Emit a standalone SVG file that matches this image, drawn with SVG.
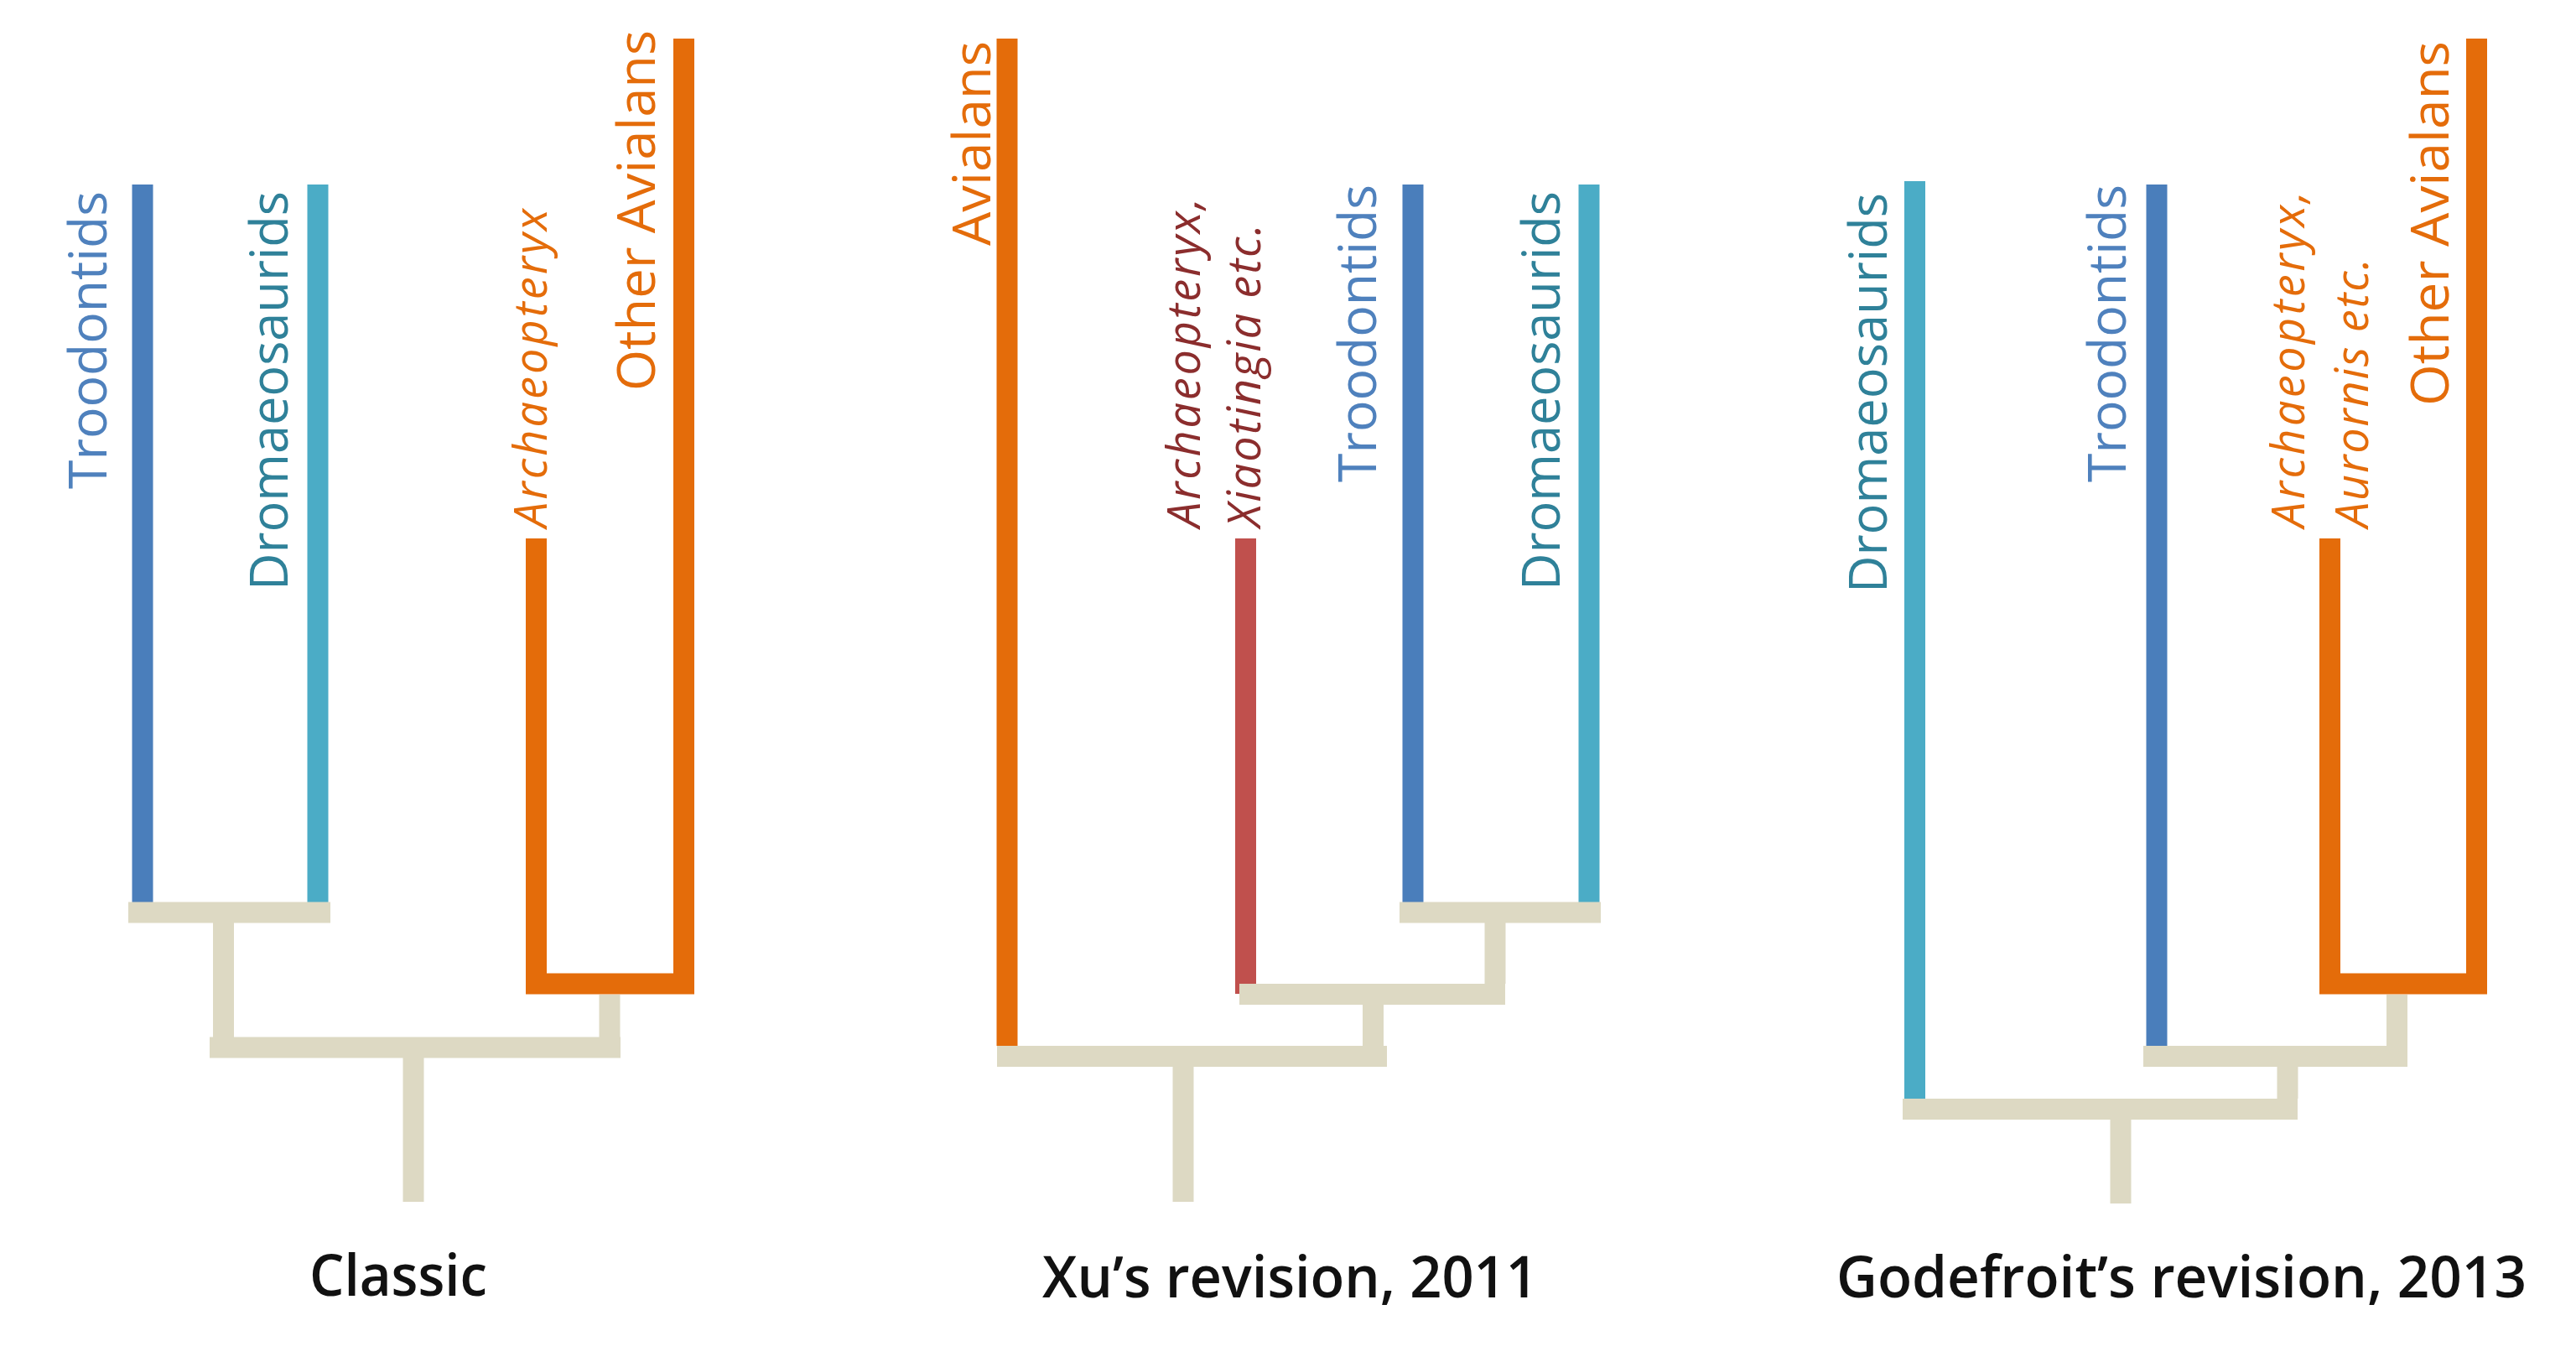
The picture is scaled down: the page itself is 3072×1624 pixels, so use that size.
<svg xmlns="http://www.w3.org/2000/svg" width="3072" height="1624" viewBox="0 0 3072 1624">
<style>
.bar{stroke-width:25;stroke-linecap:butt;fill:none}
.blue{stroke:#4a7ebb}
.teal{stroke:#4bacc6}
.orange{stroke:#e46c0a}
.red{stroke:#c0504d}
.grey{stroke:#ddd9c3;stroke-width:25;fill:none}
.lbl{font-family:"Open Sans","DejaVu Sans",sans-serif;font-size:62px}
.it{font-style:italic;font-size:54px}
.tb{fill:#4f81bd}
.tt{fill:#2f8199}
.to{fill:#e46c0a}
.tr{fill:#8b2d2d}
.title{font-family:"Open Sans","Liberation Sans",sans-serif;font-weight:600;font-size:68px;fill:#111}
</style>
<rect width="3072" height="1624" fill="#ffffff"/>

<!-- Panel 1: Classic -->
<g id="classic">
  <g id="p1-troodontids">
    <path class="bar blue" d="M170,220V1076"/>
    <text class="lbl tb" transform="translate(127,583) rotate(-90)" textLength="355" lengthAdjust="spacingAndGlyphs">Troodontids</text>
  </g>
  <g id="p1-dromaeosaurids">
    <path class="bar teal" d="M379,220V1076"/>
    <text class="lbl tt" transform="translate(343,704) rotate(-90)" textLength="476" lengthAdjust="spacingAndGlyphs">Dromaeosaurids</text>
  </g>
  <g id="p1-archaeopteryx">
    <path class="bar orange" d="M639.5,642V1173"/>
    <text class="lbl it to" transform="translate(652,629) rotate(-90)" textLength="380" lengthAdjust="spacing">Archaeopteryx</text>
  </g>
  <g id="p1-other-avialans">
    <path class="bar orange" d="M815.5,46V1173"/>
    <text class="lbl to" transform="translate(781,466) rotate(-90)" textLength="430" lengthAdjust="spacingAndGlyphs">Other Avialans</text>
  </g>
  <text id="p1-title" class="title" x="369" y="1545" textLength="212" lengthAdjust="spacingAndGlyphs">Classic</text>
</g>

<!-- Panel 2: Xu -->
<g id="xu">
  <g id="p2-avialans">
    <path class="bar orange" d="M1201,46V1247"/>
    <text class="lbl to" transform="translate(1181,293) rotate(-90)" textLength="244" lengthAdjust="spacingAndGlyphs">Avialans</text>
  </g>
  <g id="p2-archaeopteryx-xiaotingia">
    <path class="bar red" d="M1485.5,642V1185"/>
    <text class="lbl it tr" transform="translate(1431,629) rotate(-90)" textLength="393" lengthAdjust="spacing">Archaeopteryx,</text>
    <text class="lbl it tr" transform="translate(1503,629) rotate(-90)" textLength="362" lengthAdjust="spacing">Xiaotingia etc.</text>
  </g>
  <g id="p2-troodontids">
    <path class="bar blue" d="M1685,220V1076"/>
    <text class="lbl tb" transform="translate(1641,575) rotate(-90)" textLength="355" lengthAdjust="spacingAndGlyphs">Troodontids</text>
  </g>
  <g id="p2-dromaeosaurids">
    <path class="bar teal" d="M1895,220V1076"/>
    <text class="lbl tt" transform="translate(1860,704) rotate(-90)" textLength="476" lengthAdjust="spacingAndGlyphs">Dromaeosaurids</text>
  </g>
  <text id="p2-title" class="title" x="1243" y="1547" textLength="591" lengthAdjust="spacingAndGlyphs">Xu’s revision, 2011</text>
</g>

<!-- Panel 3: Godefroit -->
<g id="godefroit">
  <g id="p3-dromaeosaurids">
    <path class="bar teal" d="M2283.5,216V1310"/>
    <text class="lbl tt" transform="translate(2250,707) rotate(-90)" textLength="477" lengthAdjust="spacingAndGlyphs">Dromaeosaurids</text>
  </g>
  <g id="p3-troodontids">
    <path class="bar blue" d="M2572,220V1247"/>
    <text class="lbl tb" transform="translate(2535,575) rotate(-90)" textLength="355" lengthAdjust="spacingAndGlyphs">Troodontids</text>
  </g>
  <g id="p3-archaeopteryx-aurornis">
    <path class="bar orange" d="M2778.5,642V1173"/>
    <text class="lbl it to" transform="translate(2748,629) rotate(-90)" textLength="401" lengthAdjust="spacing">Archaeopteryx,</text>
    <text class="lbl it to" transform="translate(2824,629) rotate(-90)" textLength="321" lengthAdjust="spacing">Aurornis etc.</text>
  </g>
  <g id="p3-other-avialans">
    <path class="bar orange" d="M2953.5,46V1173"/>
    <text class="lbl to" transform="translate(2920,484) rotate(-90)" textLength="435" lengthAdjust="spacingAndGlyphs">Other Avialans</text>
  </g>
  <text id="p3-title" class="title" x="2190" y="1547" textLength="823" lengthAdjust="spacingAndGlyphs">Godefroit’s revision, 2013</text>
</g>

<!-- Connectors -->
<g id="connectors">
  <!-- Panel 1 -->
  <path class="bar orange" d="M627,1173H828"/>
  <path class="grey" d="M153,1088H394"/>
  <path class="grey" d="M266.5,1100V1237"/>
  <path class="grey" d="M250,1249H740"/>
  <path class="grey" d="M727,1186V1237"/>
  <path class="grey" d="M493,1261V1433"/>
  <!-- Panel 2 -->
  <path class="grey" d="M1669,1088H1909"/>
  <path class="grey" d="M1783,1100V1173"/>
  <path class="grey" d="M1478,1185.5H1795"/>
  <path class="grey" d="M1637.5,1198V1247"/>
  <path class="grey" d="M1189,1259.5H1654"/>
  <path class="grey" d="M1411,1272V1433"/>
  <!-- Panel 3 -->
  <path class="bar orange" d="M2766,1173H2966"/>
  <path class="grey" d="M2858.5,1186V1247"/>
  <path class="grey" d="M2556,1259.5H2871"/>
  <path class="grey" d="M2728,1272V1310"/>
  <path class="grey" d="M2269,1322.5H2740"/>
  <path class="grey" d="M2529,1335V1435"/>
</g>
</svg>
